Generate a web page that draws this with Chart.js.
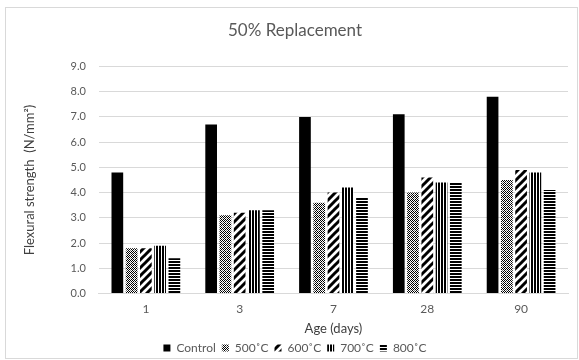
<!DOCTYPE html>
<html>
<head>
<meta charset="utf-8">
<script src="https://cdn.jsdelivr.net/npm/chart.js@4.4.1/dist/chart.umd.min.js"></script>
<style>
  html, body { margin: 0; padding: 0; background: #fff; }
  #wrap { width: 579px; height: 360px; }
</style>
</head>
<body>
<div id="wrap"><canvas id="flexChart"></canvas></div>
<script>
var ages = ["1", "3", "7", "28", "90"];
var seriesNames = ["Control", "500˚C", "600˚C", "700˚C", "800˚C"];
var control = [4.8, 6.7, 7.0, 7.1, 7.8];
var t500 = [1.8, 3.1, 3.6, 4.0, 4.5];
var t600 = [1.8, 3.2, 4.0, 4.6, 4.9];
var t700 = [1.9, 3.3, 4.2, 4.4, 4.8];
var t800 = [1.4, 3.3, 3.8, 4.4, 4.1];
var yTicks = [0, 1, 2, 3, 4, 5, 6, 7, 8, 9];

var grey = "#595959";
var fontName = "Lato";

// little tiles for the hatch fills
function makePattern(size, draw) {
  var c = document.createElement("canvas");
  c.width = size; c.height = size;
  var g = c.getContext("2d");
  g.fillStyle = "#fff";
  g.fillRect(0, 0, size, size);
  g.fillStyle = "#000";
  draw(g);
  return document.getElementById("flexChart").getContext("2d").createPattern(c, "repeat");
}

var dotPat = makePattern(4, function (g) {
  g.fillStyle = "#000";
  g.fillRect(0, 0, 1, 1); g.fillRect(2, 0, 1, 1);
  g.fillRect(1, 1, 1, 1); g.fillRect(3, 1, 1, 1);
  g.fillRect(0, 2, 1, 1);
  g.fillRect(1, 3, 1, 1); g.fillRect(3, 3, 1, 1);
  g.fillStyle = "#777";
  g.fillRect(2, 2, 1, 1);
});
var diagPat = makePattern(8, function (g) {
  g.strokeStyle = "#000";
  g.lineWidth = 3;
  g.beginPath();
  g.moveTo(-2, 10); g.lineTo(10, -2);
  g.moveTo(-6, 6); g.lineTo(6, -6);
  g.moveTo(2, 14); g.lineTo(14, 2);
  g.stroke();
});
var vertPat = makePattern(3, function (g) {
  g.fillRect(0, 0, 2, 3);
});
var horzPat = makePattern(3, function (g) {
  g.fillRect(0, 0, 3, 2);
});

Chart.defaults.font.family = fontName;
Chart.defaults.color = grey;

var frame = {
  id: "frame",
  beforeDraw: function (chart) {
    var ctx = chart.ctx;
    ctx.save();
    ctx.fillStyle = "#fff";
    ctx.fillRect(0, 0, chart.width, chart.height);
    ctx.strokeStyle = "#d9d9d9";
    ctx.lineWidth = 1;
    ctx.strokeRect(5.5, 7.5, 572, 351);
    ctx.restore();
  }
};

var fills = ["#000", dotPat, diagPat, vertPat, horzPat];
var values = [control, t500, t600, t700, t800];

new Chart(document.getElementById("flexChart"), {
  type: "bar",
  data: {
    labels: ages,
    datasets: seriesNames.map(function (name, i) {
      return {
        label: name,
        data: values[i],
        backgroundColor: fills[i],
        borderWidth: 0,
        categoryPercentage: 0.76,
        barPercentage: 0.82
      };
    })
  },
  options: {
    responsive: true,
    maintainAspectRatio: false,
    animation: false,
    layout: { padding: { left: 22, right: 11, top: 0, bottom: -4 } },
    plugins: {
      title: {
        display: true,
        text: "50% Replacement",
        color: grey,
        font: { size: 17, weight: "normal" },
        padding: { top: 20, bottom: 26 }
      },
      legend: {
        position: "bottom",
        labels: {
          boxWidth: 7,
          boxHeight: 7,
          padding: 6,
          color: grey,
          font: { size: 12 }
        }
      },
      tooltip: { enabled: false }
    },
    scales: {
      x: {
        grid: { display: false, drawTicks: false },
        border: { color: "#d9d9d9" },
        ticks: { color: grey, font: { size: 12 }, padding: 8 },
        title: {
          display: true,
          text: "Age (days)",
          color: "#404040",
          font: { size: 13, lineHeight: 1 },
          padding: { top: -2, bottom: 1 }
        }
      },
      y: {
        min: 0,
        max: 9,
        afterBuildTicks: function (axis) {
          axis.ticks = yTicks.map(function (v) { return { value: v }; });
        },
        grid: { color: "#d9d9d9", drawTicks: false },
        border: { display: false },
        ticks: {
          color: grey,
          font: { size: 11 },
          padding: 13,
          callback: function (v) { return v.toFixed(1); }
        },
        title: {
          display: true,
          text: "Flexural strength  (N/mm²)",
          color: "#404040",
          font: { size: 13 },
          padding: { top: 0, bottom: 20 }
        }
      }
    }
  },
  plugins: [frame]
});
</script>
</body>
</html>
